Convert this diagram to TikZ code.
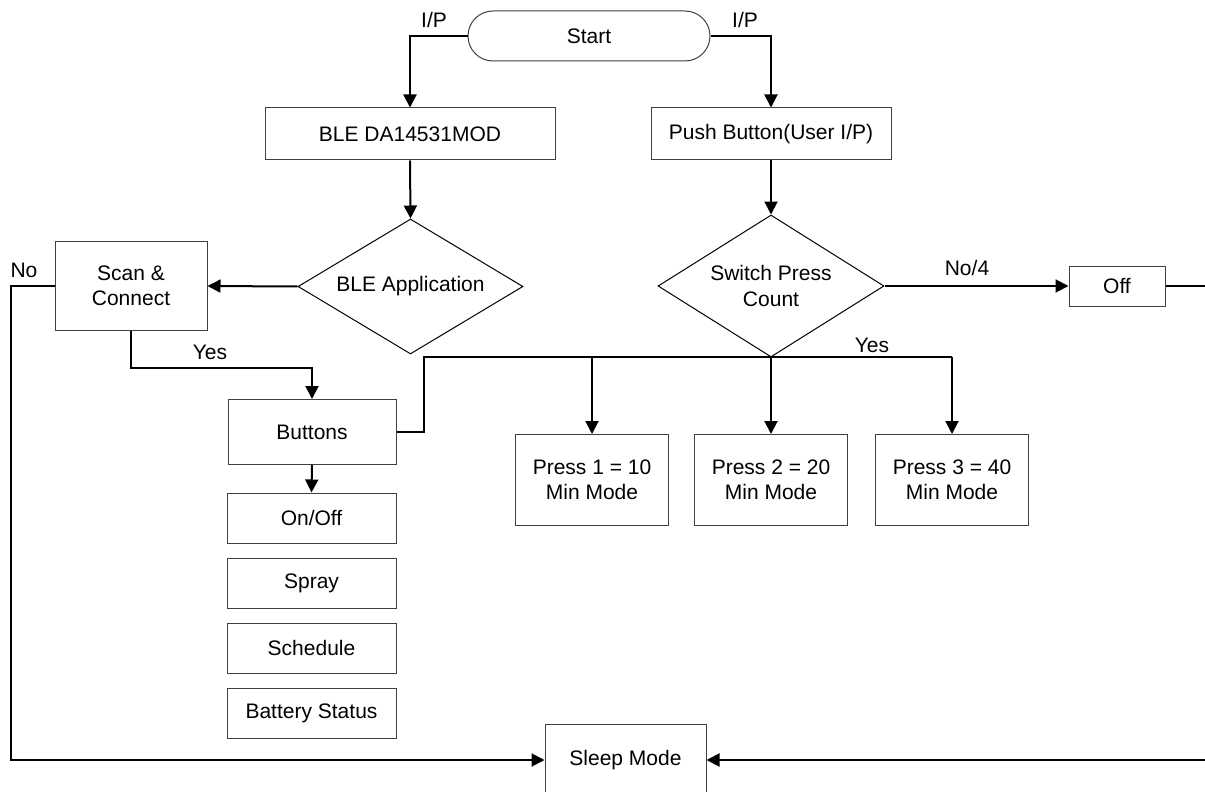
\documentclass[tikz,border=0pt]{standalone}
\usepackage{fontspec}
\setmainfont{Liberation Sans}
\usetikzlibrary{shapes.geometric,arrows.meta}
\begin{document}
\begin{tikzpicture}[x=0.5pt,y=-0.5pt,
  font=\fontsize{10.5}{12.6}\selectfont,
  box/.style={draw=black!75,line width=0.5pt,inner sep=0pt,align=center},
  dia/.style={diamond,draw=black,line width=0.5pt,inner sep=0pt},
  conn/.style={line width=1pt},
  arr/.style={conn,-{Triangle[length=6.5pt,width=6.5pt]}},
  lbl/.style={inner sep=0pt,align=center}]
\path[use as bounding box,fill=white] (0,0) rectangle (1205,792);

% nodes
\node[box,rounded corners=12.5pt,minimum width=121pt,minimum height=25pt] (start) at (589,36) {Start};
\node[box,minimum width=145pt,minimum height=26pt] (ble) at (410,134) {BLE DA14531MOD};
\node[box,minimum width=120pt,minimum height=26pt] (push) at (771,134) {Push Button(User I/P)};
\node[dia,minimum width=112.5pt,minimum height=67.5pt] (bleapp) at (410.5,286.5) {};
\node[lbl] (bleapptxt) at (bleapp) {BLE Application};
\node[dia,minimum width=113pt,minimum height=71pt] (switch) at (771,286) {};
\node[lbl] (switchtxt) at (switch) {Switch Press\\Count};
\node[box,minimum width=76pt,minimum height=44.5pt] (scan) at (131,286) {Scan \&\\Connect};
\node[box,minimum width=48pt,minimum height=20pt] (off) at (1117,286) {Off};
\node[box,minimum width=84pt,minimum height=32.5pt] (buttons) at (312,432) {Buttons};
\node[box,minimum width=76.5pt,minimum height=45.5pt] (p1) at (592,480) {Press 1 = 10\\Min Mode};
\node[box,minimum width=76.5pt,minimum height=45.5pt] (p2) at (771,480) {Press 2 = 20\\Min Mode};
\node[box,minimum width=76.5pt,minimum height=45.5pt] (p3) at (952,480) {Press 3 = 40\\Min Mode};
\node[box,minimum width=84.5pt,minimum height=25pt] (onoff) at (311.5,518) {On/Off};
\node[box,minimum width=84.5pt,minimum height=25pt] (spray) at (311.5,583) {Spray};
\node[box,minimum width=84.5pt,minimum height=25pt] (sched) at (311.5,648) {Schedule};
\node[box,minimum width=84.5pt,minimum height=25pt] (batt) at (311.5,713) {Battery Status};
\node[box,minimum width=80.5pt,minimum height=36pt] (sleep) at (625.5,760) {Sleep Mode};

% labels
\node[lbl] (lip) at (434,20) {I/P};
\node[lbl] (rip) at (745,20) {I/P};
\node[lbl] (lno) at (24,270) {No};
\node[lbl] (lno4) at (967,268) {No/4};
\node[lbl] (lyes1) at (210,352) {Yes};
\node[lbl] (lyes2) at (872,345) {Yes};

% helper coordinates
\coordinate (bleft) at (11,286);
\coordinate (bright) at (1220,286);
\coordinate (scanturn) at (131,368);
\coordinate (busl) at (424,432);
\coordinate (busr) at (952,357);

% connectors
\draw[arr] (start.west) -| (ble.north);
\draw[arr] (start.east) -| (push.north);
\draw[arr] (ble.south) -- (bleapp.north);
\draw[arr] (push.south) -- (switch.north);
\draw[arr] (bleapp.west) -- (scan.east);
\draw[arr] (switch.east) -- (off.west);
\draw[arr] (off.east) -- (bright) |- (sleep.east);
\draw[arr] (scan.west) -- (bleft) |- (sleep.west);
\draw[arr] (scan.south) -- (scanturn) -| (buttons.north);
\draw[conn] (buttons.east) -- (busl) |- (busr);
\draw[arr] (p1 |- switch.south) -- (p1.north);
\draw[arr] (switch.south) -- (p2.north);
\draw[arr] (busr) -- (p3.north);
\draw[arr] (buttons.south) -- (onoff.north);
\end{tikzpicture}
\end{document}
